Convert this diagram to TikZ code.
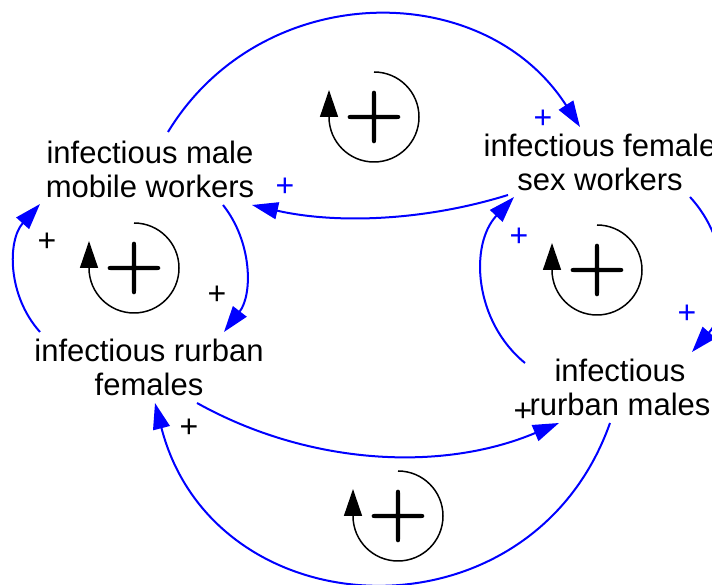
\documentclass[tikz,border=0pt]{standalone}
\usepackage{fontspec}
\newfontfamily\labelfont{Liberation Sans}
\newfontfamily\signfont[FakeBold=1.5]{Latin Modern Roman}
\usetikzlibrary{arrows.meta,calc}
\definecolor{LinkBlue}{RGB}{0,0,255}

\begin{document}
\begin{tikzpicture}[x=1pt,y=1pt,
    var/.style={align=center,font=\labelfont\fontsize{31}{34}\selectfont},
    link/.style={LinkBlue,line width=2pt,-{Triangle[length=26pt,width=17pt]}},
    pol/.style={font=\labelfont\fontsize{32}{32}\selectfont},
    looparc/.style={black,line width=1.5pt,-{Triangle[length=27pt,width=18pt]}},
    loopsign/.style={font=\signfont\fontsize{82}{82}\selectfont}]
  \useasboundingbox (0,0) rectangle (712,585);

  % stocks
  \node[var] (mmw) at (150,416) {infectious male\\mobile workers};
  \node[var] (fsw) at (600,423) {infectious female\\sex workers};
  \node[var] (rf)  at (149,218) {infectious rurban\\females};
  \node[var] (rm)  at (620,198) {infectious\\rurban males};

  % causal links
  \draw[link] ($(mmw)+(18,37)$) to[bend left=58,looseness=1.11] ($(fsw)+(-20,35)$);
  \draw[link] ($(fsw)+(-92,-33)$) to[bend left=15,looseness=0.87] ($(mmw)+(102,-36)$);
  \draw[link] ($(mmw)+(73,-36)$) to[bend left=38,looseness=0.95] ($(rf)+(75,35)$);
  \draw[link] ($(rf)+(-109,35)$) to[bend left=42,looseness=0.98] ($(mmw)+(-110,-35)$);
  \draw[link] ($(fsw)+(90,-35)$) to[bend left=42,looseness=0.98] ($(rm)+(72,35)$);
  \draw[link] ($(rm)+(-95,24)$) to[bend left=47,looseness=1.01] ($(fsw)+(-86,-35)$);
  \draw[link] ($(rf)+(48,-36)$) to[bend right=26,looseness=0.9] ($(rm)+(-61,-36)$);
  \draw[link] ($(rm)+(-10,-36)$) to[bend left=73,looseness=1.33] ($(rf)+(6,-36)$);

  % link polarities
  \node[pol,LinkBlue] (polA) at (543,466) {+};
  \node[pol,LinkBlue] (polB) at (285,398) {+};
  \node[pol] (polC) at (217,290) {+};
  \node[pol] (polD) at (47,343) {+};
  \node[pol,LinkBlue] (polE) at (687,271) {+};
  \node[pol,LinkBlue] (polF) at (519,348) {+};
  \node[pol] (polG) at (523,173) {+};
  \node[pol] (polH) at (189,157) {+};

  % loop markers
  \draw[looparc] (374,513) arc[start angle=90,end angle=-180,radius=45] -- ++(0,27);
  \node[loopsign] (loopT) at (374,468) {+};
  \draw[looparc] (134,362) arc[start angle=90,end angle=-180,radius=45] -- ++(0,27);
  \node[loopsign] (loopL) at (134,317) {+};
  \draw[looparc] (597,360) arc[start angle=90,end angle=-180,radius=45] -- ++(0,27);
  \node[loopsign] (loopR) at (597,315) {+};
  \draw[looparc] (398,114) arc[start angle=90,end angle=-180,radius=45] -- ++(0,27);
  \node[loopsign] (loopB) at (398,69) {+};
\end{tikzpicture}
\end{document}
